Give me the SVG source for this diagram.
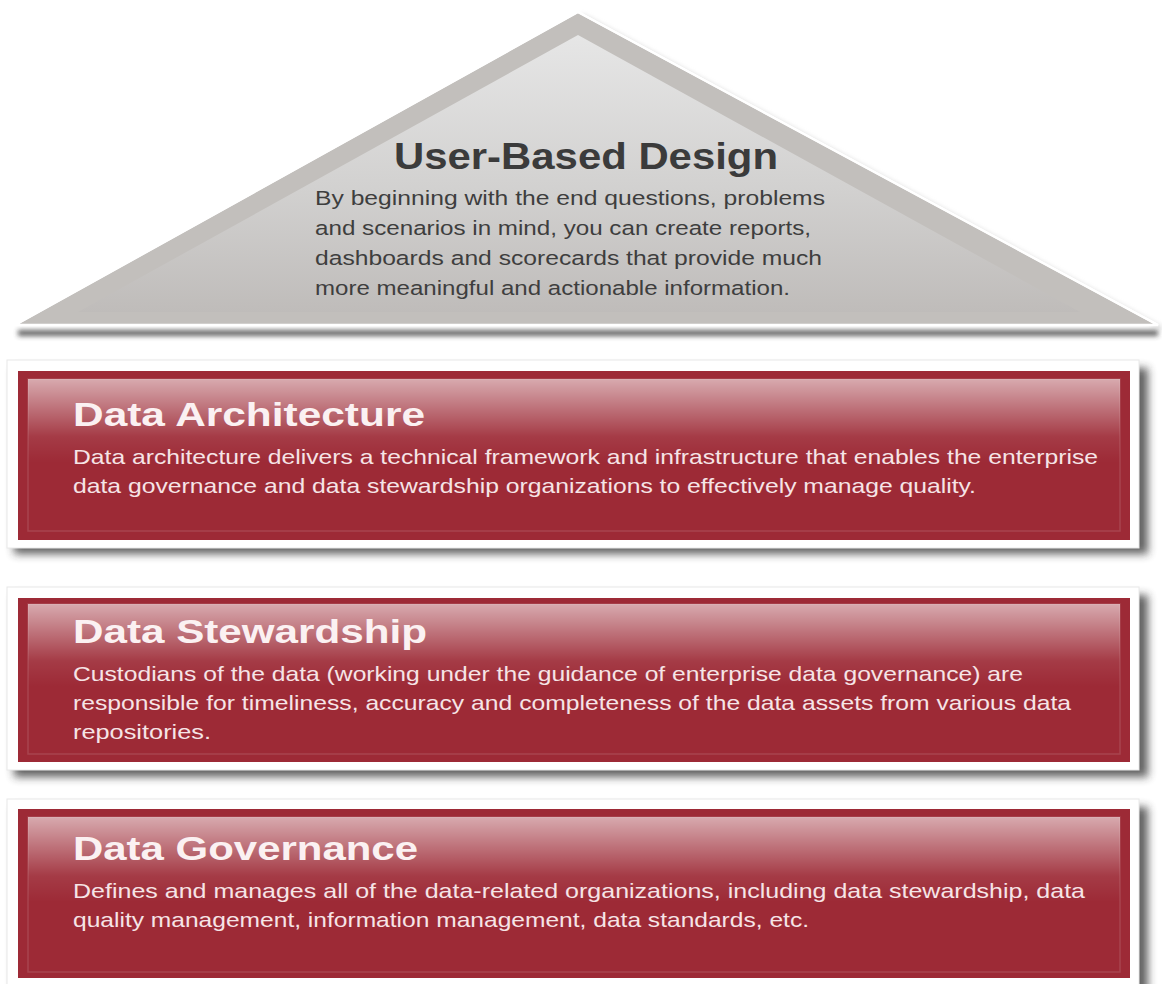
<svg xmlns="http://www.w3.org/2000/svg" width="1162" height="984" viewBox="0 0 1162 984">
  <defs>
    <linearGradient id="triInner" x1="0" y1="0" x2="0" y2="1">
      <stop offset="0" stop-color="#e6e6e6"/>
      <stop offset="0.55" stop-color="#d2d1d0"/>
      <stop offset="1" stop-color="#bfbcba"/>
    </linearGradient>
    <linearGradient id="gloss" x1="0" y1="0" x2="0" y2="1">
      <stop offset="0" stop-color="#ffffff" stop-opacity="0.6"/>
      <stop offset="0.38" stop-color="#ffffff" stop-opacity="0.08"/>
      <stop offset="0.55" stop-color="#ffffff" stop-opacity="0"/>
    </linearGradient>
    <filter id="blur6" x="-5%" y="-30%" width="110%" height="160%">
      <feGaussianBlur stdDeviation="4"/>
    </filter>
    <filter id="blur3" x="-5%" y="-200%" width="110%" height="500%">
      <feGaussianBlur stdDeviation="2.5"/>
    </filter>
    <style>
      .frame { fill: #ffffff; stroke: #e8e8e8; stroke-width: 1; }
      .slab { fill: #9d2a36; }
      .gloss { fill: url(#gloss); stroke: #ffffff; stroke-opacity: 0.12; stroke-width: 1.5; }
      .shadow { fill: #2e2e2e; opacity: 0.75; }
      .title { font-family: "Liberation Sans", Arial, sans-serif; font-weight: bold; font-size: 34px; fill: #fbf1f2; }
      .body { font-family: "Liberation Sans", Arial, sans-serif; font-size: 21px; fill: #f6e4e6; }
      .tri-title { font-family: "Liberation Sans", Arial, sans-serif; font-weight: bold; font-size: 36px; fill: #3b3b3b; }
      .tri-body { font-family: "Liberation Sans", Arial, sans-serif; font-size: 20.5px; fill: #3e3e3e; }
    </style>
  </defs>

  <rect x="0" y="0" width="1162" height="984" fill="#ffffff"/>

  <!-- roof: user-based design -->
  <g id="user-based-design">
    <rect x="18" y="330" width="1140" height="6" fill="#333333" opacity="0.75" filter="url(#blur3)"/>
    <polygon points="582,14 1162,327 1162,330 582,18" fill="#9a9a9a" opacity="0.5" filter="url(#blur3)"/>
    <polygon points="578,12 1158,325 15,325" fill="#c2bfbc" stroke="#ffffff" stroke-width="2.5"/>
    <polygon points="578,35 1080,312 78,312" fill="url(#triInner)"/>
    <polygon points="578,12 1158,325 15,325" fill="none" stroke="#ffffff" stroke-width="2"/>
    <text class="tri-title" x="394" y="169" textLength="384" lengthAdjust="spacingAndGlyphs">User-Based Design</text>
    <text class="tri-body" x="315" y="205" textLength="510" lengthAdjust="spacingAndGlyphs">By beginning with the end questions, problems</text>
    <text class="tri-body" x="315" y="235" textLength="496" lengthAdjust="spacingAndGlyphs">and scenarios in mind, you can create reports,</text>
    <text class="tri-body" x="315" y="265" textLength="507" lengthAdjust="spacingAndGlyphs">dashboards and scorecards that provide much</text>
    <text class="tri-body" x="315" y="295" textLength="475" lengthAdjust="spacingAndGlyphs">more meaningful and actionable information.</text>
  </g>

  <!-- layer: data architecture -->
  <g id="data-architecture">
    <rect class="shadow" x="14" y="368" width="1134" height="186" filter="url(#blur6)"/>
    <rect class="frame" x="7" y="360" width="1132" height="188"/>
    <rect class="slab" x="18" y="371" width="1112" height="169"/>
    <rect class="gloss" x="28" y="379" width="1092" height="152"/>
    <text class="title" x="73" y="426" textLength="352" lengthAdjust="spacingAndGlyphs">Data Architecture</text>
    <text class="body" x="73" y="464" textLength="1025" lengthAdjust="spacingAndGlyphs">Data architecture delivers a technical framework and infrastructure that enables the enterprise</text>
    <text class="body" x="73" y="493" textLength="903" lengthAdjust="spacingAndGlyphs">data governance and data stewardship organizations to effectively manage quality.</text>
  </g>

  <!-- layer: data stewardship -->
  <g id="data-stewardship">
    <rect class="shadow" x="14" y="595" width="1134" height="182" filter="url(#blur6)"/>
    <rect class="frame" x="7" y="587" width="1132" height="183"/>
    <rect class="slab" x="18" y="598" width="1112" height="164"/>
    <rect class="gloss" x="28" y="604" width="1092" height="150"/>
    <text class="title" x="73" y="643" textLength="354" lengthAdjust="spacingAndGlyphs">Data Stewardship</text>
    <text class="body" x="73" y="681" textLength="950" lengthAdjust="spacingAndGlyphs">Custodians of the data (working under the guidance of enterprise data governance) are</text>
    <text class="body" x="73" y="710" textLength="998" lengthAdjust="spacingAndGlyphs">responsible for timeliness, accuracy and completeness of the data assets from various data</text>
    <text class="body" x="73" y="739" textLength="138" lengthAdjust="spacingAndGlyphs">repositories.</text>
  </g>

  <!-- layer: data governance -->
  <g id="data-governance">
    <rect class="shadow" x="14" y="807" width="1134" height="190" filter="url(#blur6)"/>
    <rect class="frame" x="7" y="799" width="1132" height="190"/>
    <rect class="slab" x="18" y="809" width="1112" height="169"/>
    <rect class="gloss" x="28" y="817" width="1092" height="155"/>
    <text class="title" x="73" y="860" textLength="345" lengthAdjust="spacingAndGlyphs">Data Governance</text>
    <text class="body" x="73" y="898" textLength="1012" lengthAdjust="spacingAndGlyphs">Defines and manages all of the data-related organizations, including data stewardship, data</text>
    <text class="body" x="73" y="927" textLength="736" lengthAdjust="spacingAndGlyphs">quality management, information management, data standards, etc.</text>
  </g>
</svg>
